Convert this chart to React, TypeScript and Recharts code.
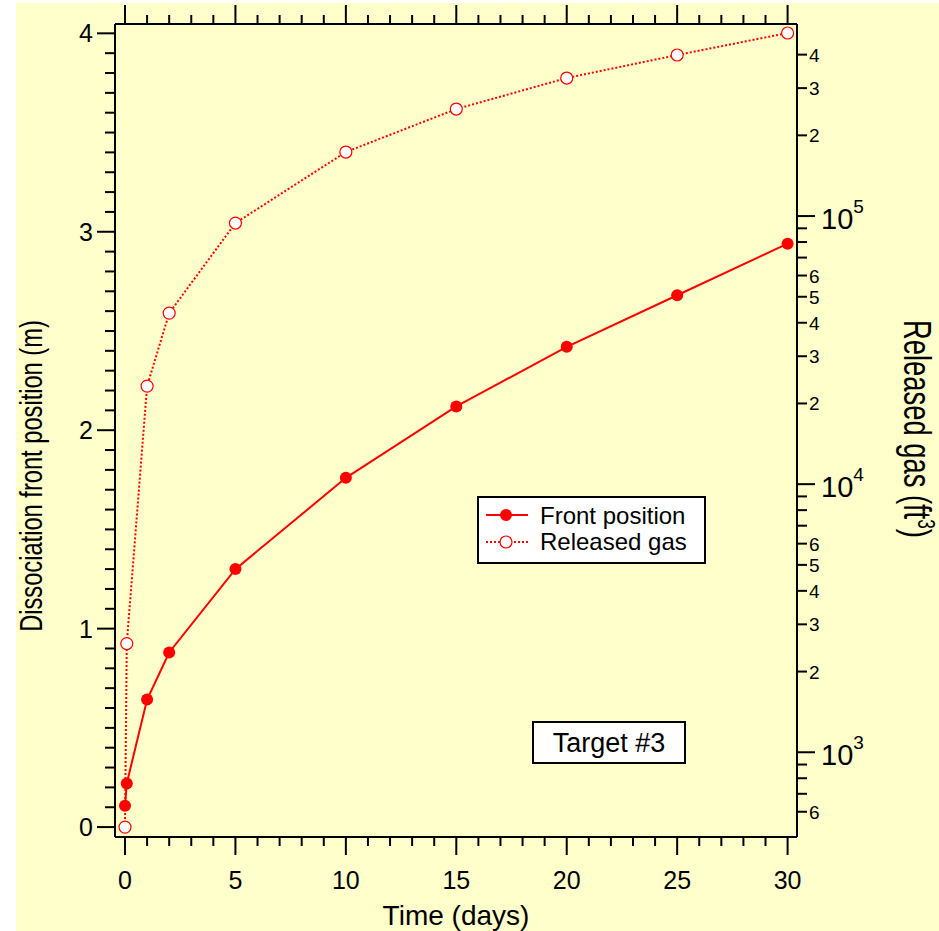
import { LineChart, Line, XAxis, YAxis, Legend, Customized } from "recharts";

const RED = "#ff0000";
const BG = "#ffffcc";
const FONT = '"Liberation Sans", Arial, Helvetica, sans-serif';

// simulation output
const days = [0, 0.08, 1, 2, 5, 10, 15, 20, 25, 30];
const frontPosition = [0.107, 0.22, 0.643, 0.88, 1.3, 1.76, 2.12, 2.42, 2.68, 2.94];
const releasedGas = [526, 2544, 23210, 43450, 94170, 173300, 250700, 327200, 398700, 481700];

const timeTicks = Array.from({ length: 31 }, (_, i) => i);
const frontTicks = Array.from({ length: 41 }, (_, i) => i / 10);
const gasTicks = [
  600, 700, 800, 900, 1000, 2000, 3000, 4000, 5000, 6000, 7000, 8000, 9000,
  10000, 20000, 30000, 40000, 50000, 60000, 70000, 80000, 90000, 100000,
  200000, 300000, 400000,
];
const gasDecades: Record<number, string> = { 1000: "3", 10000: "4", 100000: "5" };
const gasMinorLabels: Record<number, string> = {
  600: "6", 2000: "2", 3000: "3", 4000: "4", 5000: "5", 6000: "6",
  20000: "2", 30000: "3", 40000: "4", 50000: "5", 60000: "6",
  200000: "2", 300000: "3", 400000: "4",
};

const data = days.map((t, i) => ({ t, front: frontPosition[i], gas: releasedGas[i] }));

// eslint-disable-next-line @typescript-eslint/no-explicit-any
function BottomTick({ x, y, payload }: any) {
  const v = payload.value;
  const major = v % 5 === 0;
  return (
    <g>
      <line x1={x} x2={x} y1={y} y2={y + (major ? 18 : 9)} stroke="#000" strokeWidth={2} />
      {major && (
        <text x={x} y={y + 52} textAnchor="middle" fontSize={25} fontFamily={FONT} fill="#000">{v}</text>
      )}
    </g>
  );
}

// eslint-disable-next-line @typescript-eslint/no-explicit-any
function TopTick({ x, y, payload }: any) {
  const major = payload.value % 5 === 0;
  return <line x1={x} x2={x} y1={y} y2={y - (major ? 19 : 9)} stroke="#000" strokeWidth={2} />;
}

// eslint-disable-next-line @typescript-eslint/no-explicit-any
function LeftTick({ x, y, payload }: any) {
  const v = payload.value;
  const major = Math.abs(v - Math.round(v)) < 1e-6;
  return (
    <g>
      <line x1={x} x2={x - (major ? 18 : 10)} y1={y} y2={y} stroke="#000" strokeWidth={2} />
      {major && (
        <text x={x - 22} y={y + 9} textAnchor="end" fontSize={25} fontFamily={FONT} fill="#000">{Math.round(v)}</text>
      )}
    </g>
  );
}

// eslint-disable-next-line @typescript-eslint/no-explicit-any
function RightTick({ x, y, payload }: any) {
  const v = payload.value;
  const exp = gasDecades[v];
  const lab = gasMinorLabels[v];
  return (
    <g fontFamily={FONT} fill="#000">
      <line x1={x} x2={x + (exp ? 18 : 10)} y1={y} y2={y} stroke="#000" strokeWidth={2} />
      {exp && (
        <text x={x + 24} y={y + 13} fontSize={29}>
          10<tspan dy={-16} fontSize={19}>{exp}</tspan>
        </text>
      )}
      {lab && <text x={x + 12} y={y + 7} fontSize={19}>{lab}</text>}
    </g>
  );
}

function Annotations() {
  return (
    <g fontFamily={FONT} fill="#000">
      <text transform="translate(42,476) rotate(-90) scale(0.74,1)" textAnchor="middle" fontSize={32}>
        Dissociation front position (m)
      </text>
      <text x={456} y={925} textAnchor="middle" fontSize={28}>Time (days)</text>
      <text transform="translate(904,320) rotate(90) scale(0.72,1)" fontSize={38}>
        Released gas (ft<tspan dy={-14} fontSize={24}>3</tspan><tspan dy={14}>)</tspan>
      </text>
      <rect x={533} y={722} width={152} height={41} fill="#fff" stroke="#000" strokeWidth={2} />
      <text x={609} y={752} textAnchor="middle" fontSize={27}>Target #3</text>
    </g>
  );
}

function LegendBox() {
  return (
    <svg width={229} height={68} style={{ display: "block" }}>
      <rect x={1} y={1} width={227} height={66} fill="#fff" stroke="#000" strokeWidth={2} />
      <line x1={9} x2={51} y1={19} y2={19} stroke={RED} strokeWidth={2} />
      <circle cx={29} cy={19} r={6} fill={RED} />
      <text x={63} y={27.5} fontSize={24} fontFamily={FONT}>Front position</text>
      <line x1={9} x2={51} y1={46} y2={46} stroke={RED} strokeWidth={2} strokeDasharray="2 2" />
      <circle cx={29} cy={46} r={6} fill="#fff" stroke={RED} strokeWidth={1.2} />
      <text x={63} y={54} fontSize={24} fontFamily={FONT}>Released gas</text>
    </svg>
  );
}

export default function App() {
  return (
    <div style={{ position: "absolute", left: 0, top: 0, width: 939, height: 931, background: "#fff" }}>
      <div style={{ position: "absolute", left: 16, top: 3, right: 0, bottom: 0, background: BG }} />
      <div style={{ position: "absolute", left: 0, top: 0 }}>
        <LineChart width={939} height={931} data={data} margin={{ top: 0, right: 0, bottom: 0, left: 0 }}>
          <XAxis dataKey="t" type="number" domain={[-0.453, 30.426]} allowDataOverflow ticks={timeTicks}
            interval={0} height={94} tickSize={0} tickMargin={0} tick={<BottomTick />}
            axisLine={{ stroke: "#000", strokeWidth: 2 }} />
          <XAxis xAxisId="top" orientation="top" dataKey="t" type="number" domain={[-0.453, 30.426]} allowDataOverflow
            ticks={timeTicks} interval={0} height={24} tickSize={0} tickMargin={0} tick={<TopTick />}
            axisLine={{ stroke: "#000", strokeWidth: 2 }} />
          <YAxis yAxisId="left" type="number" domain={[-0.05, 4.047]} allowDataOverflow ticks={frontTicks}
            interval={0} width={115} tickSize={0} tickMargin={0} tick={<LeftTick />}
            axisLine={{ stroke: "#000", strokeWidth: 2 }} />
          <YAxis yAxisId="right" orientation="right" type="number" scale="log" domain={[483, 520400]} allowDataOverflow
            ticks={gasTicks} interval={0} width={142} tickSize={0} tickMargin={0} tick={<RightTick />}
            axisLine={{ stroke: "#000", strokeWidth: 2 }} />
          <Legend layout="vertical" align="center" verticalAlign="middle" content={<LegendBox />}
            wrapperStyle={{ left: 477, top: 496, width: 229, height: 68 }} />
          <Line yAxisId="left" dataKey="front" name="Front position" type="linear" stroke={RED} strokeWidth={2}
            isAnimationActive={false}
            // eslint-disable-next-line @typescript-eslint/no-explicit-any
            dot={(p: any) => <circle key={`f${p.index}`} cx={p.cx} cy={p.cy} r={6} fill={RED} />} />
          <Line yAxisId="right" dataKey="gas" name="Released gas" type="linear" stroke={RED} strokeWidth={2}
            strokeDasharray="2 2" isAnimationActive={false}
            // eslint-disable-next-line @typescript-eslint/no-explicit-any
            dot={(p: any) => <circle key={`g${p.index}`} cx={p.cx} cy={p.cy} r={6} fill="#fff" stroke={RED} strokeWidth={1.2} />} />
          <Customized component={Annotations} />
        </LineChart>
      </div>
    </div>
  );
}
